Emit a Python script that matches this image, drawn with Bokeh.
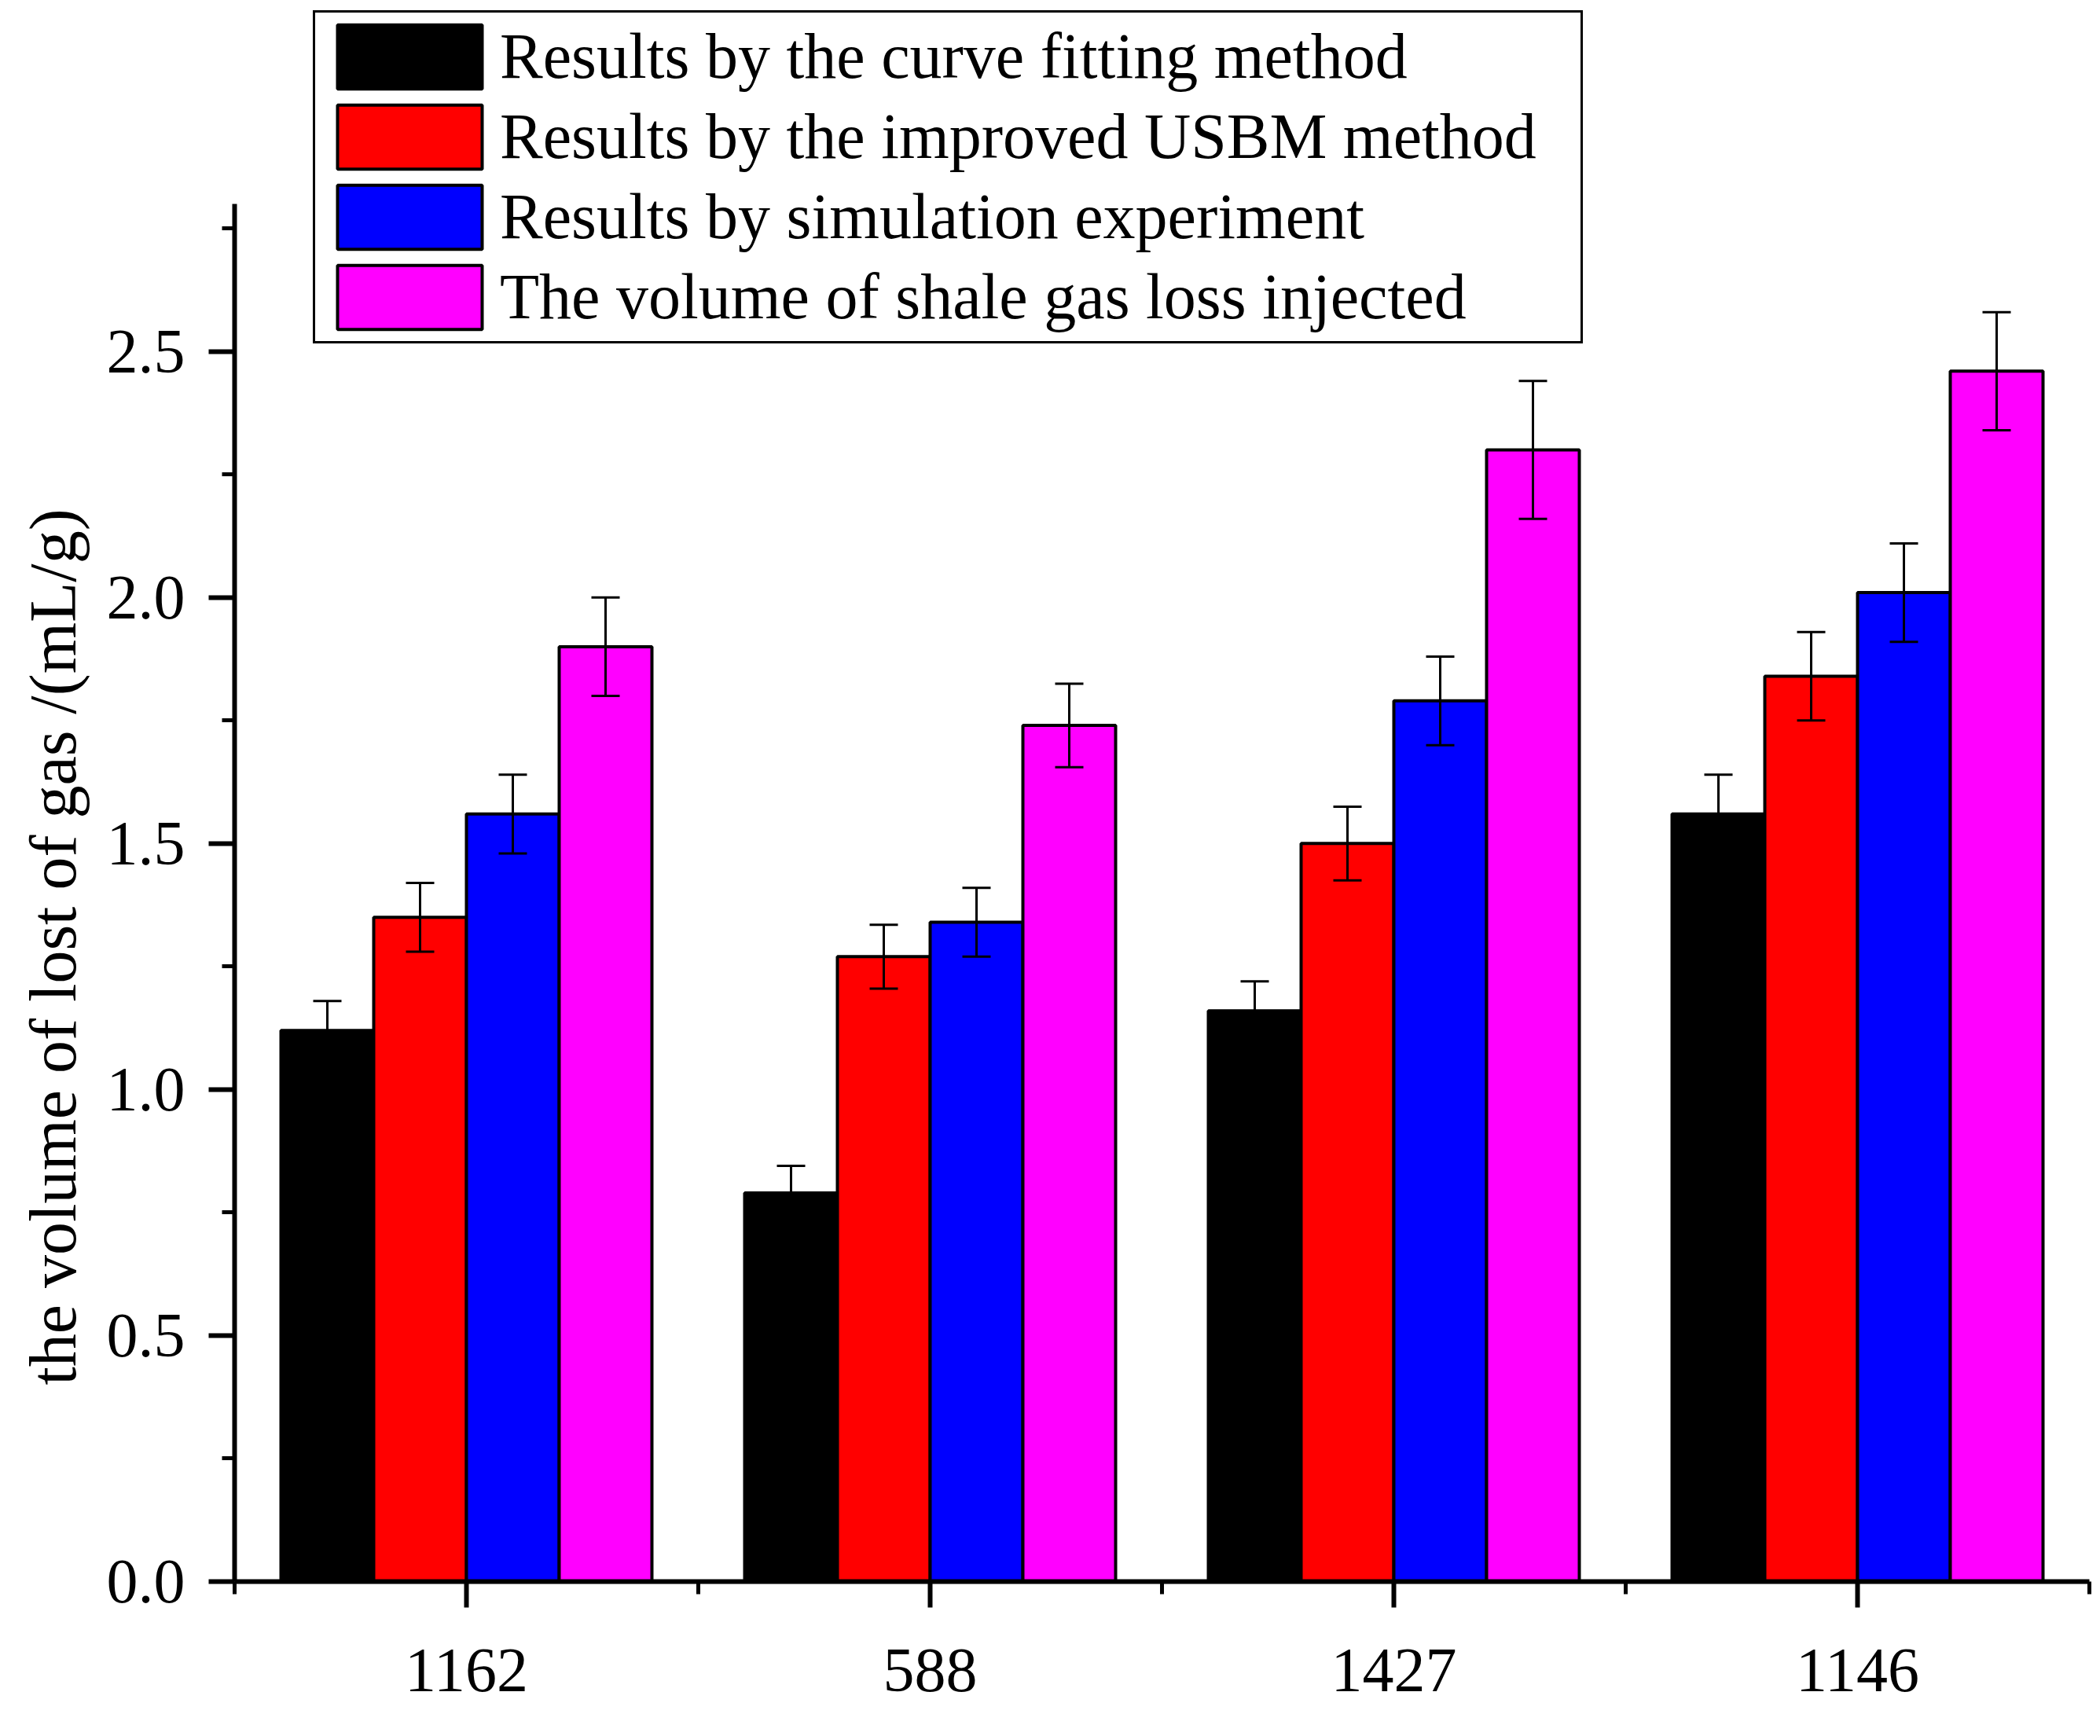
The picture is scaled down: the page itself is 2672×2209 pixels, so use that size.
import math
from bokeh.plotting import figure
from bokeh.models import (ColumnDataSource, Range1d, FixedTicker, Whisker, TeeHead,
                          Legend, LegendItem, Title, NumeralTickFormatter)
from bokeh.transform import dodge
from bokeh.embed import file_html
from bokeh.resources import INLINE

# ---- data ----
samples = ["1162", "588", "1427", "1146"]
curve_fit = [1.12, 0.79, 1.16, 1.56]
curve_fit_err = [0.06, 0.055, 0.06, 0.08]
usbm = [1.35, 1.27, 1.50, 1.84]
usbm_err = [0.07, 0.065, 0.075, 0.09]
simulation = [1.56, 1.34, 1.79, 2.01]
simulation_err = [0.08, 0.07, 0.09, 0.10]
injected = [1.90, 1.74, 2.30, 2.46]
injected_err = [0.10, 0.085, 0.14, 0.12]

series_names = ["Results by the curve fitting method",
                "Results by the improved USBM method",
                "Results by simulation experiment",
                "The volume of shale gas loss injected"]
y_tick_values = [0.0, 0.5, 1.0, 1.5, 2.0, 2.5]
y_minor_values = [0.25, 0.75, 1.25, 1.75, 2.25, 2.75]
y_axis_max = 2.8
y_label = "the volume of lost of gas /(mL/g)"

FONT = "Liberation Serif"

xpos = [i + 1 for i in range(len(samples))]

# frame extends above the y axis so the legend (which sits above the axis top) is not clipped
p = figure(width=2664, height=2201, output_backend="svg", toolbar_location=None,
           x_range=Range1d(0.5, 4.5), y_range=Range1d(0, 3.2136),
           min_border_left=298, min_border_right=6, min_border_top=0,
           min_border_bottom=189)
p.outline_line_color = None
p.xgrid.visible = False
p.ygrid.visible = False
p.background_fill_color = "white"
p.border_fill_color = "white"

colors = ["#000000", "#ff0000", "#0000ff", "#ff00ff"]
vals = [curve_fit, usbm, simulation, injected]
errs = [curve_fit_err, usbm_err, simulation_err, injected_err]
offsets = [-0.3, -0.1, 0.1, 0.3]

items = []
for name, col, v, e, off in zip(series_names, colors, vals, errs, offsets):
    src = ColumnDataSource(dict(
        x=xpos, top=v,
        upper=[a + b for a, b in zip(v, e)],
        lower=[a - b for a, b in zip(v, e)]))
    r = p.vbar(x=dodge("x", off), top="top", bottom=0, width=0.2, source=src,
               fill_color=col, line_color="black", line_width=4)
    w = Whisker(base=dodge("x", off), upper="upper", lower="lower", source=src,
                line_color="black", line_width=3, level="annotation",
                upper_head=TeeHead(size=36, line_width=3, line_color="black"),
                lower_head=TeeHead(size=36, line_width=3, line_color="black"))
    p.add_layout(w)
    items.append(LegendItem(label=name, renderers=[r]))

legend = Legend(items=items, location=(100, 1575), margin=0, padding=5,
                spacing=0, glyph_width=230, glyph_height=102, label_height=102,
                label_width=1370, label_standoff=0,
                label_text_font=FONT, label_text_font_size="82px",
                label_text_color="black", border_line_color="black",
                border_line_alpha=1.0, border_line_width=3,
                background_fill_color="white", background_fill_alpha=1.0)
p.add_layout(legend, "center")

# x axis
xa = p.xaxis[0]
xa.ticker = FixedTicker(ticks=xpos, minor_ticks=[0.5, 1.5, 2.5, 3.5, 4.5])
xa.major_label_overrides = {x: s for x, s in zip(xpos, samples)}
# y axis
ya = p.yaxis[0]
ya.ticker = FixedTicker(ticks=y_tick_values, minor_ticks=y_minor_values)
ya.formatter = NumeralTickFormatter(format="0.0")
ya.bounds = (0, y_axis_max)

for ax in (xa, ya):
    ax.axis_line_width = 6
    ax.axis_line_color = "black"
    ax.major_tick_line_width = 6
    ax.minor_tick_line_width = 5
    ax.major_tick_out = 33
    ax.major_tick_in = 0
    ax.minor_tick_out = 16
    ax.minor_tick_in = 0
    ax.major_label_text_font = FONT
    ax.major_label_text_font_size = "80px"
    ax.major_label_text_color = "black"
xa.major_label_standoff = 53
ya.major_label_standoff = 30

# y axis title, placed in the left panel
p.add_layout(Title(text=y_label, align="left", offset=250, vertical_align="top",
                   text_font=FONT, text_font_size="84px", text_font_style="normal",
                   text_color="black", standoff=34), "left")

open("out.html", "w").write(file_html(p, INLINE))
